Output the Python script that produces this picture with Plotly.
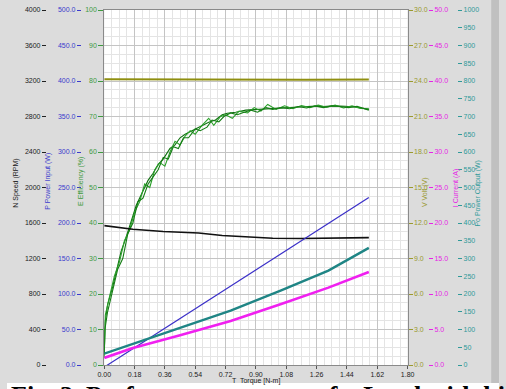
import plotly.graph_objects as go

# ---------------- data ----------------
torque_speed = [0.00, 0.17, 0.35, 0.56, 0.70, 0.85, 1.00, 1.17, 1.35, 1.57]
speed_rpm = [1570, 1530, 1505, 1488, 1460, 1440, 1428, 1425, 1430, 1435]

torque_pin = [0.00, 1.57]
power_in_w = [-3, 236]

torque_eff_a = [0.00, 0.005, 0.02, 0.05, 0.08, 0.10, 0.13, 0.155, 0.19, 0.23, 0.26, 0.29, 0.32, 0.35,
                0.39, 0.42, 0.45, 0.48, 0.52, 0.56, 0.62, 0.66, 0.70, 0.73, 0.78, 0.84, 0.91, 0.97,
                1.04, 1.10, 1.17, 1.23, 1.30, 1.36, 1.43, 1.50, 1.57]
eff_a = [3, 12, 17, 22, 28, 32, 36, 40, 45, 49, 52, 54, 56.5, 58,
         61, 62, 64, 65, 66, 67, 68.4, 69, 70.5, 70.9, 71.2, 71.8, 72, 72.2,
         72.3, 72.6, 72.6, 72.9, 72.8, 73.0, 72.9, 72.6, 72.0]

torque_eff_b = [0.00, 0.006, 0.03, 0.06, 0.09, 0.12, 0.15, 0.18, 0.21, 0.24, 0.27, 0.30, 0.33, 0.36,
                0.39, 0.42, 0.45, 0.48, 0.51, 0.54, 0.58, 0.62, 0.65, 0.69, 0.72, 0.76, 0.80, 0.85,
                0.89, 0.93, 0.97, 1.02, 1.07, 1.12, 1.17, 1.22, 1.27, 1.32, 1.37, 1.42, 1.47, 1.52, 1.57]
eff_b = [3, 14, 19, 25, 29, 35, 38, 43, 46, 51, 50, 55, 57, 56,
         60, 63, 62, 64.5, 66, 65, 67.5, 69.5, 67.5, 70, 70.5, 69.5, 71.5, 71,
         72.5, 71.5, 73.4, 72, 73, 72.2, 73.1, 72.5, 73.2, 72.6, 73.2, 72.4, 73.0, 72.3, 72.2]

torque_eff_c = [0.00, 0.004, 0.02, 0.05, 0.08, 0.11, 0.14, 0.17, 0.20, 0.23, 0.26, 0.29, 0.32, 0.35,
                0.38, 0.41, 0.44, 0.47, 0.50, 0.54, 0.57, 0.61, 0.64, 0.68, 0.71, 0.75, 0.79, 0.83,
                0.87, 0.91, 0.96, 1.00, 1.05, 1.10, 1.15, 1.20, 1.25, 1.30, 1.35, 1.40, 1.45, 1.50, 1.55, 1.57]
eff_c = [2, 10, 15, 21, 27, 30, 37, 40, 46, 47, 51, 53, 55, 58.5,
         58, 61.5, 61, 64, 64, 66.5, 66, 67, 69, 68.5, 70, 71, 70.5, 71.2,
         71.8, 71.2, 72.5, 72, 72.5, 72.2, 72.8, 72.4, 73, 72.5, 73, 72.8, 72.5, 72.9, 72.1, 71.8]

torque_volt = [0.00, 0.40, 0.80, 1.20, 1.57]
volt_v = [24.15, 24.12, 24.10, 24.10, 24.12]

torque_curr = [0.00, 0.17, 0.45, 0.75, 1.05, 1.33, 1.57]
current_a = [1.0, 2.4, 4.2, 6.2, 8.6, 10.9, 13.1]

torque_pout = [0.00, 0.17, 0.45, 0.75, 1.05, 1.33, 1.57]
power_out_w = [32, 59, 105, 153, 210, 266, 330]

x_ticks = [0.00, 0.18, 0.36, 0.54, 0.72, 0.90, 1.08, 1.26, 1.44, 1.62, 1.80]

# ---------------- styling ----------------
W, H = 506, 389
PL, PR = 100, 412          # plot area x-pixels
FONT = "Liberation Sans, Arial, sans-serif"
C_N, C_PIN, C_EFF = "#222222", "#3b3bcc", "#3f9a3f"
C_V, C_I, C_POUT = "#9a9a30", "#e624e6", "#2f9a9a"

fig = go.Figure()
fig.add_trace(go.Scatter(x=torque_volt, y=volt_v, yaxis="y4", mode="lines",
                         line=dict(color="#8f8f10", width=2)))
fig.add_trace(go.Scatter(x=torque_speed, y=speed_rpm, yaxis="y2", mode="lines",
                         line=dict(color="#111111", width=1.6)))
fig.add_trace(go.Scatter(x=torque_pin, y=power_in_w, yaxis="y3", mode="lines",
                         line=dict(color="#3a2fc8", width=1.2)))
fig.add_trace(go.Scatter(x=torque_pout, y=power_out_w, yaxis="y6", mode="lines",
                         line=dict(color="#1f8585", width=2.4)))
fig.add_trace(go.Scatter(x=torque_curr, y=current_a, yaxis="y5", mode="lines",
                         line=dict(color="#f020f0", width=2.6)))
for tx, ty, col in [(torque_eff_a, eff_a, "#0f700f"),
                    (torque_eff_b, eff_b, "#2aa02a"),
                    (torque_eff_c, eff_c, "#157d15")]:
    fig.add_trace(go.Scatter(x=tx, y=ty, yaxis="y", mode="lines",
                             line=dict(color=col, width=1.1)))

xd0, xd1 = PL / W, PR / W
tickfont = lambda c: dict(family=FONT, size=7, color=c)

fig.update_layout(
    width=W, height=H, autosize=False,
    margin=dict(l=0, r=0, t=10, b=24, pad=0),
    paper_bgcolor="#dcdcdc", plot_bgcolor="#ffffff",
    showlegend=False,
    xaxis=dict(domain=[xd0, xd1], range=[0, 1.8], tickvals=x_ticks, tickformat=".2f",
               ticks="outside", ticklen=3, tickcolor="#555", tickfont=tickfont("#222"),
               ticklabelstandoff=0,
               showgrid=True, gridcolor="#c4c4c4", gridwidth=1,
               minor=dict(dtick=0.045, showgrid=True, gridcolor="#e4e4e4", ticks=""),
               showline=True, linecolor="#8a8a8a", mirror=True, zeroline=False),
    yaxis=dict(range=[0, 100], dtick=10, anchor="x", side="left",
               ticks="outside", ticklen=5, tickcolor=C_EFF, tickfont=tickfont(C_EFF),
               showgrid=True, gridcolor="#c4c4c4",
               minor=dict(dtick=2.5, showgrid=True, gridcolor="#e4e4e4", ticks=""),
               showline=True, linecolor="#8a8a8a", mirror=True, zeroline=False),
    yaxis2=dict(range=[0, 4000], dtick=400, overlaying="y", anchor="free", side="left",
                position=40 / W, ticks="outside", ticklen=4, tickcolor=C_N,
                tickfont=tickfont(C_N), showgrid=False, zeroline=False, showline=False),
    yaxis3=dict(range=[0, 500], dtick=50, tickformat=".1f", overlaying="y", anchor="free",
                side="left", position=76 / W, ticks="outside", ticklen=4, tickcolor=C_PIN,
                tickfont=tickfont(C_PIN), showgrid=False, zeroline=False, showline=False),
    yaxis4=dict(range=[0, 30], dtick=3, tickformat=".1f", overlaying="y", anchor="x",
                side="right", ticks="outside", ticklen=4, tickcolor=C_V,
                tickfont=tickfont(C_V), showgrid=False, zeroline=False, showline=False),
    yaxis5=dict(range=[0, 50], dtick=5, tickformat=".1f", overlaying="y", anchor="free",
                side="right", position=433 / W, ticks="outside", ticklen=4, tickcolor=C_I,
                tickfont=tickfont(C_I), showgrid=False, zeroline=False, showline=False),
    yaxis6=dict(range=[0, 1000], dtick=50, overlaying="y", anchor="free",
                side="right", position=463 / W, ticks="outside", ticklen=4, tickcolor=C_POUT,
                tickfont=tickfont(C_POUT), showgrid=False, zeroline=False, showline=False),
)

PH0, PH1 = 10, 365  # plot area y-pixels (top, bottom)


def px_to_paper(xp, yp):
    return xp / W, (PH1 - yp) / (PH1 - PH0)


titles = [
    ("N Speed (RPM)", 9, 183, C_N),
    ("P Power Input (W)", 42, 181, C_PIN),
    ("E Efficiency (%)", 76, 181, C_EFF),
    ("V Volt (V)", 430, 192, C_V),
    ("I Current (A)", 462, 188, C_I),
    ("Po Power Output (W)", 484, 193, C_POUT),
]
for txt, xp, yp, col in titles:
    xx, yy = px_to_paper(xp, yp)
    fig.add_annotation(text=txt, x=xx, y=yy, xref="paper", yref="paper", textangle=-90,
                       showarrow=False, xanchor="center", yanchor="middle",
                       font=dict(family=FONT, size=7, color=col))

xx, yy = px_to_paper(256, 380.5)
fig.add_annotation(text="T  Torque [N-m]", x=xx, y=yy, xref="paper", yref="paper",
                   showarrow=False, xanchor="center", yanchor="middle",
                   font=dict(family=FONT, size=7, color="#222"))

# white caption band and the right window edge
fig.add_shape(type="rect", xref="paper", yref="paper", x0=0, x1=1,
              y0=px_to_paper(0, 389)[1] - 0.05, y1=px_to_paper(0, 383)[1],
              fillcolor="#ffffff", line=dict(width=0), layer="below")
fig.add_shape(type="rect", xref="paper", yref="paper", x0=498 / W, x1=1,
              y0=px_to_paper(0, 383)[1], y1=px_to_paper(0, 0)[1],
              fillcolor="#c0c0c0", line=dict(width=0), layer="below")

xx, yy = px_to_paper(2, 379)
fig.add_annotation(text="<b>Fig. 3. Performance curves of a Load with high efficiency</b>",
                   x=xx, y=yy, xref="paper", yref="paper", showarrow=False,
                   xanchor="left", yanchor="top",
                   font=dict(family="Liberation Serif, Times New Roman, serif", size=26,
                             color="#000"))

fig.write_html("out.html", config={"displayModeBar": False},
               post_script="document.body.style.margin='0';document.body.style.overflow='hidden';")
